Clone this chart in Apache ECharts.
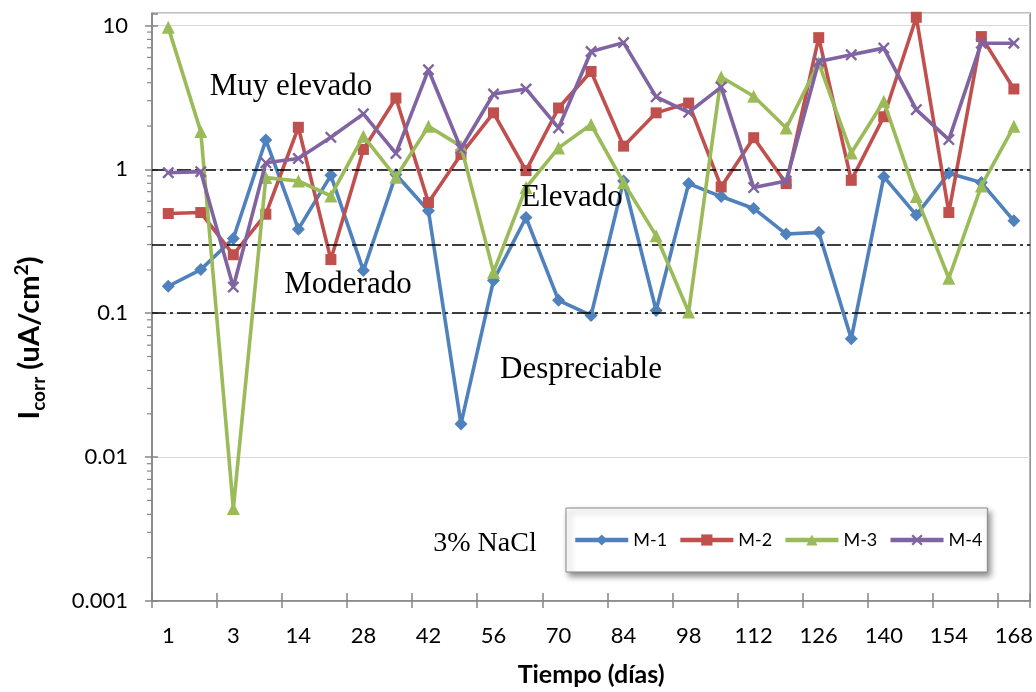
<!DOCTYPE html>
<html>
<head>
<meta charset="utf-8">
<script src="https://cdn.jsdelivr.net/npm/echarts@6/dist/echarts.min.js"></script>
<style>html,body{margin:0;padding:0;background:#fff;}#chart{width:1036px;height:692px;}</style>
</head>
<body>
<div id="chart"></div>
<script>
// Categories (days)
const days = [1,2,3,7,14,21,28,35,42,49,56,63,70,77,84,91,98,105,112,119,126,133,140,147,154,161,168];
// Series values (Icorr, uA/cm2)
const m1 = [0.154,0.201,0.331,1.60,0.384,0.909,0.198,0.92,0.515,0.0170,0.169,0.463,0.123,0.0966,0.830,0.1045,0.796,0.647,0.535,0.355,0.365,0.0666,0.890,0.481,0.938,0.809,0.439];
const m2 = [0.493,0.501,0.255,0.488,1.96,0.236,1.375,3.13,0.588,1.27,2.47,0.98,2.67,4.79,1.45,2.47,2.89,0.755,1.66,0.796,8.23,0.839,2.32,11.4,0.501,8.37,3.62];
const m3 = [9.7,1.83,0.00439,0.876,0.830,0.654,1.70,0.88,1.99,1.45,0.193,0.747,1.41,2.05,0.809,0.346,0.102,4.38,3.22,1.94,5.5,1.30,2.97,0.647,0.175,0.767,1.99];
const m4 = [0.948,0.964,0.152,1.11,1.19,1.67,2.43,1.29,4.92,1.39,3.34,3.62,1.94,6.59,7.60,3.19,2.49,3.73,0.747,0.830,5.62,6.25,6.96,2.60,1.61,7.53,7.53];
const seriesNames = ['M-1','M-2','M-3','M-4'];
// Threshold lines
const thresholds = [1, 0.3, 0.1];
// Y axis range and minor ticks
const yMin = 0.001, yMax = 12.15;
const minorTicks = [0.002,0.003,0.004,0.005,0.006,0.007,0.008,0.009,
  0.02,0.03,0.04,0.05,0.06,0.07,0.08,0.09,
  0.2,0.3,0.4,0.5,0.6,0.7,0.8,0.9,
  2,3,4,5,6,7,8,9];
// Region labels
const regionLabels = [
  {text:'Muy elevado', x:291, y:87},
  {text:'Elevado', x:572, y:198},
  {text:'Moderado', x:348, y:285},
  {text:'Despreciable', x:581, y:370}
];

const colors = ['#4F81BD','#C0504D','#9BBB59','#8064A2'];
const xPath = 'path://M0,1.4L1.4,0L5,3.6L8.6,0L10,1.4L6.4,5L10,8.6L8.6,10L5,6.4L1.4,10L0,8.6L3.6,5Z';
const symbols = ['diamond','rect','triangle',xPath];
const symSizes = [13,11,13,12];
const SANS = 'Lato';
const SERIF = '"Liberation Serif"';

function isPow10(v){ const l = Math.log10(v); return Math.abs(l - Math.round(l)) < 1e-6; }
function fmt(v){
  if (!isPow10(v)) return '';
  const l = Math.round(Math.log10(v));
  return l >= 0 ? String(Math.round(v)) : v.toFixed(-l);
}

const chart = echarts.init(document.getElementById('chart'));
const dataSets = [m1,m2,m3,m4];
const lineSeries = dataSets.map((d,i)=>({
  name: seriesNames[i], type:'line', data:d,
  symbol: symbols[i], symbolSize: symSizes[i],
  showAllSymbol: true,
  lineStyle:{color:colors[i], width:3.6},
  itemStyle:{color:colors[i]},
  z: 3 + i,
  clip: false
}));

const option = {
  animation:false,
  backgroundColor:'#fff',
  grid:{left:152, right:4.5, top:13.3, bottom:88.5, show:true, borderColor:'#868686', borderWidth:1.5, backgroundColor:'transparent'},
  legend:{
    data: seriesNames, orient:'horizontal', left:566, top:508,
    itemWidth:53, itemHeight:14, itemGap:11,
    padding:[23,5,23,7],
    backgroundColor:'#fff', borderColor:'#888', borderWidth:1,
    shadowBlur:6, shadowColor:'rgba(0,0,0,0.45)', shadowOffsetX:3, shadowOffsetY:4,
    lineStyle:{width:4.5},
    textStyle:{fontFamily:SANS, fontSize:18, color:'#000'}
  },
  xAxis:[{
    type:'category', data:days, boundaryGap:true, position:'bottom',
    axisLine:{lineStyle:{color:'#868686', width:1.5}},
    axisTick:{show:true, interval:1, length:7, lineStyle:{color:'#868686', width:1.5}},
    axisLabel:{interval:1, fontFamily:SANS, fontSize:22, color:'#000', margin:24},
    splitLine:{show:false},
    name:'Tiempo (días)', nameLocation:'middle', nameGap:61,
    nameTextStyle:{fontFamily:SANS, fontSize:25, fontWeight:'bold', color:'#000'}
  },{
    type:'category', data:days, boundaryGap:true, position:'bottom',
    axisLine:{show:false},
    axisTick:{show:true, inside:true, interval:1, length:8, lineStyle:{color:'#868686', width:1.5}},
    axisLabel:{show:false}, splitLine:{show:false}
  }],
  yAxis:[{
    type:'log', logBase:10, min:yMin, max:yMax, position:'left',
    axisLine:{show:true, lineStyle:{color:'#868686', width:1.5}},
    axisTick:{show:true, length:7, lineStyle:{color:'#868686', width:1.5}},
    axisLabel:{formatter:fmt, fontFamily:SANS, fontSize:22, color:'#000', margin:24, showMaxLabel:false},
    splitLine:{show:true, lineStyle:{color:'#D9D9D9', width:1.2}}
  },{
    type:'log', logBase:10, min:yMin, max:yMax, position:'left',
    axisLine:{show:false},
    axisTick:{show:true, inside:true, length:6, lineStyle:{color:'#868686', width:1.5}},
    axisLabel:{show:false}, splitLine:{show:false}
  }],
  graphic:[
    ...regionLabels.map(r=>({type:'text', x:r.x, y:r.y, z:10, silent:true,
      style:{text:r.text, fontFamily:SERIF, fontSize:31, fill:'#000', align:'center', verticalAlign:'middle'}})),
    {type:'text', x:485, y:544, z:10, silent:true,
      style:{text:'3% NaCl', fontFamily:SERIF, fontSize:28, fill:'#000', align:'center', verticalAlign:'middle'}},
    {type:'text', x:30, y:338, rotation:Math.PI/2, z:10, silent:true,
      style:{text:'{m|I}{s|corr}{m| (uA/cm}{p|2}{m|)}', align:'center', verticalAlign:'middle', fill:'#000',
        rich:{
          m:{fontFamily:SANS, fontSize:29, fontWeight:'bold', lineHeight:36, verticalAlign:'middle'},
          s:{fontFamily:SANS, fontSize:19, fontWeight:'bold', lineHeight:19, verticalAlign:'bottom'},
          p:{fontFamily:SANS, fontSize:19, fontWeight:'bold', lineHeight:19, verticalAlign:'top'}
        }}}
  ],
  series:[
    {name:'thr', type:'line', data:[], z:2, silent:true,
      markLine:{silent:true, symbol:['none','none'], label:{show:false},
        lineStyle:{color:'#000', width:1.6, type:[14,4,3,4]},
        data: thresholds.map(t=>({yAxis:t}))}},
    {name:'minor', type:'custom', silent:true, z:2,
      data: minorTicks.map(v=>[0, v]),
      renderItem:function(params, api){
        const p = api.coord([0, api.value(1)]);
        const x0 = params.coordSys.x;
        return {type:'line', shape:{x1:x0-5, y1:p[1], x2:x0, y2:p[1]},
          style:{stroke:'#868686', lineWidth:1.2}};
      }},
    ...lineSeries
  ]
};
chart.setOption(option);
</script>
</body>
</html>
